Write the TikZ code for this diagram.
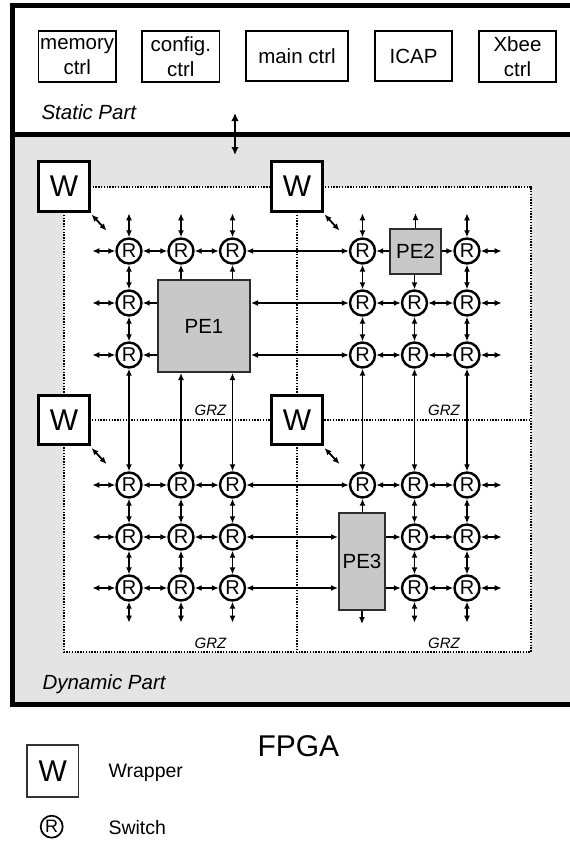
\documentclass[tikz,border=0pt]{standalone}
\usepackage{fontspec}
\setmainfont{Liberation Sans}
\usetikzlibrary{arrows.meta,positioning,calc}
\definecolor{dynfill}{RGB}{228,228,228}
\definecolor{pefill}{RGB}{200,200,200}
\definecolor{peline}{RGB}{45,45,45}

\begin{document}
\begin{tikzpicture}[x=1pt, y=-1pt,
    ctrlbox/.style={draw, line width=1.8pt, minimum width=77.5pt, minimum height=50.5pt, inner sep=0pt, align=center, font=\fontsize{20.5}{25}\selectfont},
    wrapbox/.style={draw, fill=white, line width=2.6pt, minimum width=50.5pt, minimum height=49.5pt, inner sep=0pt, font=\fontsize{30}{30}\selectfont},
    swnode/.style={circle, draw, fill=white, line width=2.4pt, minimum size=25pt, inner sep=0pt, font=\fontsize{20}{20}\selectfont},
    pebox/.style={draw=peline, fill=pefill, line width=2pt, inner sep=0pt, font=\fontsize{20.5}{20.5}\selectfont},
    link/.style={line width=1.8pt, {Latex[length=7pt,width=6pt]}-{Latex[length=7pt,width=6pt]}},
    feed/.style={line width=1.8pt, -{Latex[length=7pt,width=6pt]}},
    zone/.style={line width=1.7pt, dash pattern=on 1.4pt off 1.4pt},
    grz/.style={font=\fontsize{15}{15}\selectfont\itshape, anchor=base},
    partlabel/.style={font=\fontsize{20.5}{20.5}\selectfont\itshape, anchor=base west},
    legtext/.style={font=\fontsize{19.5}{19.5}\selectfont, anchor=base west}]
    \useasboundingbox (0,0) rectangle (570,841);
    \clip (0,0) rectangle (570,841);
    % Dynamic part (grey) and static part frames
    \filldraw[fill=dynfill, line width=5pt] (12.5,134) rectangle (600,704);
    \draw[line width=5pt] (12.5,5) rectangle (600,134);
    % GRZ zones: white area split in four by dotted lines
    \fill[white] (64,186.7) rectangle (530.7,652);
    \draw[zone] (64,186.7) rectangle (530.7,652);
    \draw[zone] (297,186.7) -- (297,652);
    \draw[zone] (64,420) -- (530.7,420);
    % Static part modules
    \node[ctrlbox] (memctrl) at (77.2,56.5) {memory\\ctrl};
    \node[ctrlbox] (cfgctrl) at (180.8,56.5) {config.\\ctrl};
    \node[ctrlbox, minimum width=102pt] (mainctrl) at (297,56) {main ctrl};
    \node[ctrlbox] (icap) at (413.5,56) {ICAP};
    \node[ctrlbox] (xbee) at (517.5,56.5) {Xbee\\ctrl};
    \node[partlabel] (static) at (38,119.5) {Static Part};
    \node[partlabel] (dynamic) at (39,689.5) {Dynamic Part};
    % Link between static and dynamic part
    \coordinate (busS) at (235,113);
    \coordinate (busD) at (235,155);
    \draw[line width=2.6pt, {Latex[length=8pt,width=7.5pt]}-{Latex[length=8pt,width=7.5pt]}] (busS) -- (busD);
    % Wrappers at the zone corners
    \foreach \n/\x/\y in {w1/64/186.5, w2/297/186.5, w3/64/420, w4/297/420} {
      \node[wrapbox] (\n) at (\x,\y) {W};
      \draw[link] ([shift={(1,2)}]\n.south east) -- ++(15,16);
    }
    % Processing elements
    \node[pebox, minimum width=92pt, minimum height=92pt] (pe1) at (204,326) {PE1};
    \node[pebox, minimum width=51pt, minimum height=45pt] (pe2) at (415.5,251.5) {PE2};
    \node[pebox, minimum width=46pt, minimum height=97pt] (pe3) at (362,561.5) {PE3};
    % Switches: a = top left, b = top right, c = bottom left, d = bottom right
    \foreach \n/\x/\y in {a11/129/251, a21/181/251, a31/232.5/251, a12/129/303, a13/129/355,
      b11/362.5/251, b31/467/251, b12/362.5/303, b22/414.5/303, b32/467/303,
      b13/362.5/355, b23/414.5/355, b33/467/355,
      c11/129/485, c21/181/485, c31/232.5/485, c12/129/537, c22/181/537, c32/232.5/537,
      c13/129/588, c23/181/588, c33/232.5/588,
      d11/362.5/485, d21/414.5/485, d31/467/485, d22/414.5/537, d32/467/537,
      d23/414.5/588, d33/467/588} {
      \node[swnode] (\n) at (\x,\y) {R};
    }
    % Links between switches
    \foreach \p/\q in {a11/a21, a21/a31, a31/b11, a11/a12, a12/a13, a13/c11,
      b11/b12, b12/b13, b13/d11, b12/b22, b22/b32, b13/b23, b23/b33, b22/b23, b23/d21,
      b31/b32, b32/b33, b33/d31,
      c11/c21, c21/c31, c31/d11, c12/c22, c22/c32, c13/c23, c23/c33,
      c11/c12, c12/c13, c21/c22, c22/c23, c31/c32, c32/c33,
      d11/d21, d21/d31, d22/d32, d23/d33, d21/d22, d22/d23, d31/d32, d32/d33} {
      \draw[link] (\p) -- (\q);
    }
    % Links to the processing elements
    \draw[link] (b12) -- (pe1.east |- b12);
    \draw[link] (b13) -- (pe1.east |- b13);
    \draw[link] (c21) -- (pe1.south -| c21);
    \draw[link] (c31) -- (pe1.south -| c31);
    \draw[link] (c32) -- (pe3.west |- c32);
    \draw[link] (c33) -- (pe3.west |- c33);
    \draw[feed] (pe1.west |- a12) -- (a12);
    \draw[feed] (pe1.west |- a13) -- (a13);
    \draw[feed] (pe1.north -| a21) -- (a21);
    \draw[feed] (pe1.north -| a31) -- (a31);
    \draw[feed] (pe2.west |- b11) -- (b11);
    \draw[feed] (pe2.east |- b31) -- (b31);
    \draw[feed] (pe2.south -| b22) -- (b22);
    \draw[feed] (pe3.north -| d11) -- (d11);
    \draw[feed] (pe3.east |- d22) -- (d22);
    \draw[feed] (pe3.east |- d23) -- (d23);
    % Open ends at the border of the grid
    \foreach \n in {a11,a12,a13,c11,c12,c13} \draw[link] (\n.west) -- +(-23,0);
    \foreach \n in {a11,a21,a31,b11,b31} \draw[link] (\n.north) -- +(0,-24);
    \foreach \n in {b31,b32,b33,d31,d32,d33} \draw[link] (\n.east) -- +(21,0);
    \foreach \n in {c13,c23,c33,d23,d33} \draw[link] (\n.south) -- +(0,21);
    \draw[feed] (pe2.north) -- +(0,-15);
    \draw[feed] (pe3.south) -- +(0,13);
    % Zone labels
    \foreach \n/\x/\y in {grz1/210.5/415, grz2/444/415, grz3/210.5/648.5, grz4/444/648.5}
      \node[grz] (\n) at (\x,\y) {GRZ};
    % Title and legend
    \node[anchor=base west, font=\fontsize{30}{30}\selectfont] (fpga) at (254,756.7) {FPGA};
    \node[wrapbox, line width=1.8pt, draw=black!80, minimum width=51.5pt, minimum height=51.5pt] (legw) at (52.7,771) {W};
    \node[legtext] (legwtext) at (105,777) {Wrapper};
    \node[swnode, minimum size=22pt, line width=1.7pt, font=\fontsize{18}{18}\selectfont] (legr) at (51.7,826.7) {R};
    \node[legtext] (legrtext) at (105,834) {Switch};
\end{tikzpicture}
\end{document}
